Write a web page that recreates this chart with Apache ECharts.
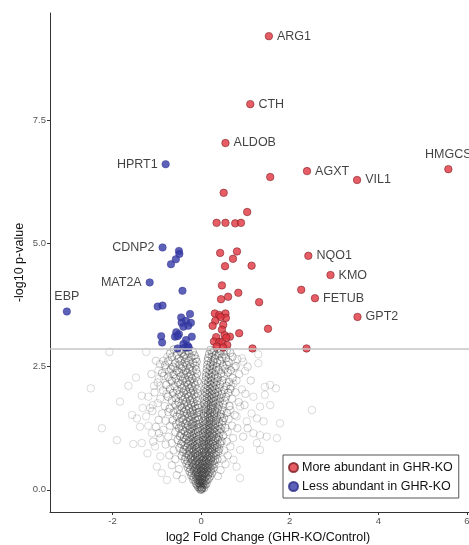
<!DOCTYPE html>
<html>
<head>
<meta charset="utf-8">
<script src="https://cdn.jsdelivr.net/npm/echarts@6/dist/echarts.min.js"></script>
<style>
html,body{margin:0;padding:0;background:#fff;}
#chart{width:469px;height:545px;}
</style>
</head>
<body>
<div id="chart"></div>
<script>
// ---------- data ----------
const xTicks = [-2, 0, 2, 4, 6];
const yTicks = [0, 2.5, 5, 7.5];
const threshold = 2.86;
const seriesNames = ['More abundant in GHR-KO', 'Less abundant in GHR-KO'];

const upLabelNames = ['ARG1','CTH','ALDOB','AGXT','VIL1','HMGCS','NQO1','KMO','FETUB','GPT2'];
const upLabelPoints = [[1.53,9.21],[1.11,7.83],[0.55,7.04],[2.39,6.47],[3.52,6.29],[5.58,6.51],[2.42,4.75],[2.92,4.36],[2.57,3.89],[3.53,3.51]];
const upOtherPoints = [
 [1.56,6.35],[0.51,6.03],[1.04,5.64],[0.35,5.42],[0.55,5.42],[0.77,5.41],[0.90,5.42],
 [0.43,4.81],[0.81,4.84],[0.72,4.69],[0.54,4.54],[1.14,4.55],
 [0.47,4.15],[2.26,4.06],[0.84,4.00],[0.61,3.92],[0.45,3.87],[1.31,3.81],
 [0.31,3.58],[0.41,3.55],[0.55,3.58],[0.56,3.49],[0.44,3.51],
 [0.32,3.43],[0.50,3.35],[0.26,3.33],[1.51,3.27],[0.86,3.18],
 [0.47,3.25],[0.53,3.14],[0.65,3.11],[0.34,3.10],[0.29,3.01],[0.41,3.00],[0.48,3.00],[0.59,2.94],
 [0.35,2.91],[0.50,2.89],[0.57,3.09],[1.16,2.87],[2.38,2.87]
];
const downLabelNames = ['HPRT1','CDNP2','MAT2A','EBP'];
const downLabelPoints = [[-0.80,6.61],[-0.87,4.92],[-1.16,4.21],[-3.03,3.62]];
const downOtherPoints = [
 [-0.50,4.85],[-0.49,4.79],[-0.57,4.68],[-0.68,4.58],[-0.42,4.04],
 [-0.98,3.72],[-0.87,3.74],
 [-0.45,3.50],[-0.25,3.57],[-0.34,3.43],[-0.44,3.39],[-0.23,3.39],[-0.29,3.33],[-0.40,3.31],
 [-0.90,3.12],[-0.88,2.99],[-0.56,3.20],[-0.50,3.16],[-0.59,3.11],[-0.53,3.12],[-0.21,3.11],
 [-0.34,3.04],[-0.40,2.96],[-0.30,2.92],[-0.36,2.89],[-0.53,2.87],[-0.28,2.89]
];
const nsSparsePoints = [
 [-2.07,2.80],[-1.24,2.80],[-0.76,2.70],[-0.96,2.43],[-0.79,2.45],[-0.59,2.47],[-1.47,2.28],[-1.64,2.11],
 [-2.49,2.06],[-0.95,2.26],[-1.06,2.11],[-0.70,2.23],[-0.92,2.11],[-1.34,1.91],[-1.19,1.89],[-1.83,1.79],
 [-1.09,1.72],[-0.98,1.76],[-1.32,1.66],[-1.15,1.66],[-1.45,1.45],[-1.56,1.52],[-1.24,1.49],[-2.24,1.25],
 [-1.38,1.28],[-1.19,1.30],[-1.11,1.15],[-1.53,0.93],[-1.34,0.95],[-1.90,1.01],[-1.21,0.74],[-1.04,0.88],
 [-0.92,0.68],[-1.00,0.47],[-0.89,0.34],[-0.77,0.20],
 [0.39,2.74],[0.92,2.67],[0.95,2.60],[1.29,2.75],[0.99,2.41],[1.29,2.57],[0.73,2.16],[0.92,2.04],
 [1.18,1.89],[1.44,2.09],[1.56,2.13],[1.69,2.06],[1.44,1.93],[1.56,1.72],[1.33,1.69],[1.14,1.55],
 [0.88,1.69],[0.80,1.49],[1.03,1.39],[1.26,1.45],[1.41,1.39],[1.78,1.35],[1.18,1.15],[1.33,1.11],
 [1.48,1.08],[1.71,1.05],[1.33,0.81],[1.26,0.95],[0.88,0.81],[0.73,0.61],[0.80,0.47],[0.88,0.24],
 [2.50,1.62]
];
const nsMidPoints = [
 [-0.85,2.62],[-0.93,2.55],[-0.72,2.40],[-0.84,2.31],[-0.98,2.18],[-0.86,2.02],[-0.78,1.95],[-0.92,1.85],
 [-0.82,1.70],[-0.74,1.58],[-0.88,1.55],[-0.96,1.42],[-0.80,1.40],[-0.70,1.30],[-0.85,1.22],[-0.74,1.08],
 [-0.92,1.05],[-0.66,0.95],[-0.80,0.92],[-0.62,0.80],[-0.72,0.70],[-0.58,0.62],[-0.66,0.50],[-0.50,0.42],
 [-0.55,0.30],[-0.42,0.22],[-1.02,2.62],[-1.12,2.35],[-1.05,1.98],[-1.10,1.60],[-1.02,1.28],[-0.95,1.15],[-1.08,0.98],
 [0.82,2.65],[0.75,2.48],[0.86,2.35],[0.80,2.22],[0.68,2.10],[0.78,1.98],[0.70,1.85],[0.85,1.78],
 [0.66,1.62],[0.76,1.52],[0.62,1.44],[0.70,1.30],[0.82,1.25],[0.60,1.18],[0.72,1.05],[0.58,0.98],
 [0.66,0.88],[0.52,0.80],[0.60,0.70],[0.48,0.62],[0.55,0.52],[0.44,0.40],[0.38,0.28],
 [1.05,2.50],[1.12,2.22],[1.00,1.95],[0.98,1.72],[1.05,1.25],[0.95,1.08]
];
const nsCorePoints = [
 [-0.62,2.85],[-0.48,2.82],[-0.41,2.86],[-0.30,2.83],[-0.19,2.81],[0.21,2.84],[0.29,2.82],[0.37,2.86],[0.44,2.81],[0.58,2.83],
 [-0.70,2.77],[-0.55,2.74],[-0.44,2.78],[-0.36,2.75],[-0.27,2.77],[-0.15,2.73],[0.18,2.76],[0.25,2.78],[0.33,2.74],[0.41,2.77],[0.52,2.75],[0.66,2.78],
 [-0.66,2.69],[-0.51,2.66],[-0.39,2.70],[-0.33,2.67],[-0.22,2.69],[-0.12,2.66],[0.16,2.68],[0.24,2.70],[0.31,2.66],[0.47,2.69],[0.56,2.67],[0.71,2.70],
 [-0.74,2.61],[-0.58,2.58],[-0.46,2.62],[-0.37,2.59],[-0.28,2.61],[-0.18,2.58],[-0.10,2.60],[0.15,2.62],[0.22,2.59],[0.28,2.61],[0.36,2.58],[0.43,2.62],[0.62,2.60],
 [-0.81,2.53],[-0.63,2.50],[-0.49,2.54],[-0.41,2.51],[-0.32,2.53],[-0.24,2.50],[-0.13,2.52],[0.14,2.54],[0.20,2.51],[0.27,2.53],[0.35,2.50],[0.49,2.52],[0.58,2.54],[0.78,2.51],
 [-0.68,2.45],[-0.55,2.42],[-0.44,2.46],[-0.35,2.43],[-0.26,2.45],[-0.19,2.42],[-0.11,2.44],[0.13,2.46],[0.19,2.43],[0.26,2.45],[0.33,2.42],[0.40,2.44],[0.54,2.46],[0.67,2.43],
 [-0.88,2.37],[-0.62,2.34],[-0.50,2.38],[-0.40,2.35],[-0.31,2.37],[-0.23,2.34],[-0.09,2.36],[0.12,2.38],[0.18,2.35],[0.24,2.37],[0.31,2.34],[0.45,2.36],[0.60,2.38],
 [-0.74,2.29],[-0.57,2.26],[-0.46,2.30],[-0.36,2.27],[-0.28,2.29],[-0.20,2.26],[-0.12,2.28],[0.11,2.30],[0.17,2.27],[0.23,2.29],[0.30,2.26],[0.38,2.28],[0.51,2.30],[0.71,2.27],
 [-0.66,2.21],[-0.52,2.18],[-0.42,2.22],[-0.33,2.19],[-0.25,2.21],[-0.16,2.18],[-0.08,2.20],[0.10,2.22],[0.16,2.19],[0.22,2.21],[0.29,2.18],[0.36,2.20],[0.48,2.22],[0.63,2.19],
 [-0.79,2.13],[-0.60,2.10],[-0.47,2.14],[-0.38,2.11],[-0.29,2.13],[-0.21,2.10],[-0.13,2.12],[0.10,2.14],[0.15,2.11],[0.21,2.13],[0.27,2.10],[0.34,2.12],[0.43,2.14],[0.57,2.11],
 [-0.70,2.05],[-0.54,2.02],[-0.43,2.06],[-0.34,2.03],[-0.26,2.05],[-0.18,2.02],[-0.09,2.04],[0.09,2.06],[0.14,2.03],[0.20,2.05],[0.26,2.02],[0.32,2.04],[0.40,2.06],[0.52,2.03],[0.66,2.05],
 [-0.63,1.97],[-0.50,1.94],[-0.40,1.98],[-0.31,1.95],[-0.23,1.97],[-0.15,1.94],[-0.08,1.96],[0.09,1.98],[0.13,1.95],[0.19,1.97],[0.25,1.94],[0.31,1.96],[0.38,1.98],[0.47,1.95],[0.61,1.97],
 [-0.75,1.89],[-0.57,1.86],[-0.45,1.90],[-0.36,1.87],[-0.28,1.89],[-0.20,1.86],[-0.11,1.88],[0.08,1.90],[0.13,1.87],[0.18,1.89],[0.24,1.86],[0.29,1.88],[0.36,1.90],[0.44,1.87],[0.56,1.89],
 [-0.66,1.81],[-0.51,1.78],[-0.41,1.82],[-0.33,1.79],[-0.25,1.81],[-0.17,1.78],[-0.09,1.80],[0.08,1.82],[0.12,1.79],[0.17,1.81],[0.23,1.78],[0.28,1.80],[0.34,1.82],[0.42,1.79],[0.53,1.81],
 [-0.58,1.73],[-0.47,1.70],[-0.38,1.74],[-0.30,1.71],[-0.22,1.73],[-0.14,1.70],[-0.07,1.72],[0.07,1.74],[0.12,1.71],[0.16,1.73],[0.22,1.70],[0.27,1.72],[0.33,1.74],[0.40,1.71],[0.50,1.73],[0.64,1.70],
 [-0.71,1.65],[-0.53,1.62],[-0.43,1.66],[-0.34,1.63],[-0.27,1.65],[-0.19,1.62],[-0.12,1.64],[-0.06,1.66],[0.07,1.63],[0.11,1.65],[0.16,1.62],[0.21,1.64],[0.26,1.66],[0.31,1.63],[0.38,1.65],[0.47,1.62],
 [-0.62,1.57],[-0.48,1.54],[-0.39,1.58],[-0.31,1.55],[-0.24,1.57],[-0.17,1.54],[-0.10,1.56],[-0.05,1.58],[0.06,1.55],[0.11,1.57],[0.15,1.54],[0.20,1.56],[0.25,1.58],[0.30,1.55],[0.36,1.57],[0.45,1.54],[0.58,1.56],
 [-0.55,1.49],[-0.44,1.46],[-0.36,1.50],[-0.28,1.47],[-0.21,1.49],[-0.14,1.46],[-0.08,1.48],[0.06,1.50],[0.10,1.47],[0.15,1.49],[0.19,1.46],[0.24,1.48],[0.29,1.50],[0.35,1.47],[0.43,1.49],[0.52,1.46],
 [-0.64,1.41],[-0.49,1.38],[-0.40,1.42],[-0.32,1.39],[-0.25,1.41],[-0.18,1.38],[-0.12,1.40],[-0.06,1.42],[0.05,1.39],[0.10,1.41],[0.14,1.38],[0.19,1.40],[0.23,1.42],[0.28,1.39],[0.33,1.41],[0.41,1.38],[0.49,1.40],
 [-0.56,1.33],[-0.45,1.30],[-0.36,1.34],[-0.29,1.31],[-0.22,1.33],[-0.16,1.30],[-0.10,1.32],[-0.05,1.34],[0.05,1.31],[0.09,1.33],[0.13,1.30],[0.18,1.32],[0.22,1.34],[0.27,1.31],[0.32,1.33],[0.39,1.30],[0.47,1.32],
 [-0.50,1.25],[-0.41,1.22],[-0.33,1.26],[-0.26,1.23],[-0.20,1.25],[-0.14,1.22],[-0.08,1.24],[-0.04,1.26],[0.05,1.23],[0.09,1.25],[0.13,1.22],[0.17,1.24],[0.21,1.26],[0.26,1.23],[0.31,1.25],[0.37,1.22],[0.44,1.24],[0.55,1.26],
 [-0.58,1.17],[-0.45,1.14],[-0.37,1.18],[-0.30,1.15],[-0.23,1.17],[-0.17,1.14],[-0.12,1.16],[-0.07,1.18],[0.04,1.15],[0.08,1.17],[0.12,1.14],[0.16,1.16],[0.20,1.18],[0.25,1.15],[0.30,1.17],[0.35,1.14],[0.42,1.16],
 [-0.48,1.09],[-0.39,1.06],[-0.32,1.10],[-0.26,1.07],[-0.20,1.09],[-0.15,1.06],[-0.10,1.08],[-0.05,1.10],[0.04,1.07],[0.08,1.09],[0.11,1.06],[0.15,1.08],[0.19,1.10],[0.24,1.07],[0.28,1.09],[0.34,1.06],[0.40,1.08],[0.50,1.10],
 [-0.53,1.01],[-0.42,0.98],[-0.34,1.02],[-0.28,0.99],[-0.22,1.01],[-0.17,0.98],[-0.12,1.00],[-0.08,1.02],[-0.04,0.99],[0.04,1.01],[0.07,0.98],[0.11,1.00],[0.14,1.02],[0.18,0.99],[0.22,1.01],[0.27,0.98],[0.32,1.00],[0.38,1.02],[0.46,0.99],
 [-0.45,0.93],[-0.37,0.90],[-0.30,0.94],[-0.24,0.91],[-0.19,0.93],[-0.14,0.90],[-0.10,0.92],[-0.06,0.94],[0.03,0.91],[0.07,0.93],[0.10,0.90],[0.14,0.92],[0.17,0.94],[0.21,0.91],[0.26,0.93],[0.31,0.90],[0.37,0.92],[0.43,0.94],
 [-0.49,0.85],[-0.39,0.82],[-0.32,0.86],[-0.26,0.83],[-0.21,0.85],[-0.16,0.82],[-0.12,0.84],[-0.08,0.86],[-0.04,0.83],[0.03,0.85],[0.06,0.82],[0.10,0.84],[0.13,0.86],[0.17,0.83],[0.21,0.85],[0.25,0.82],[0.30,0.84],[0.35,0.86],[0.41,0.83],
 [-0.41,0.77],[-0.33,0.74],[-0.27,0.78],[-0.22,0.75],[-0.17,0.77],[-0.13,0.74],[-0.09,0.76],[-0.05,0.78],[0.02,0.75],[0.06,0.77],[0.09,0.74],[0.12,0.76],[0.16,0.78],[0.20,0.75],[0.24,0.77],[0.29,0.74],[0.34,0.76],[0.39,0.78],
 [-0.44,0.69],[-0.35,0.66],[-0.28,0.70],[-0.23,0.67],[-0.18,0.69],[-0.14,0.66],[-0.10,0.68],[-0.07,0.70],[-0.03,0.67],[0.02,0.69],[0.05,0.66],[0.09,0.68],[0.12,0.70],[0.15,0.67],[0.19,0.69],[0.23,0.66],[0.28,0.68],[0.33,0.70],
 [-0.37,0.61],[-0.30,0.58],[-0.24,0.62],[-0.19,0.59],[-0.15,0.61],[-0.11,0.58],[-0.08,0.60],[-0.04,0.62],[0.02,0.59],[0.05,0.61],[0.08,0.58],[0.11,0.60],[0.14,0.62],[0.18,0.59],[0.22,0.61],[0.27,0.58],[0.31,0.60],[0.37,0.62],
 [-0.33,0.53],[-0.27,0.50],[-0.21,0.54],[-0.17,0.51],[-0.13,0.53],[-0.10,0.50],[-0.06,0.52],[-0.03,0.54],[0.01,0.51],[0.04,0.53],[0.07,0.50],[0.10,0.52],[0.13,0.54],[0.17,0.51],[0.21,0.53],[0.25,0.50],[0.30,0.52],
 [-0.30,0.45],[-0.24,0.42],[-0.19,0.46],[-0.15,0.43],[-0.11,0.45],[-0.08,0.42],[-0.05,0.44],[-0.02,0.46],[0.01,0.43],[0.04,0.45],[0.06,0.42],[0.09,0.44],[0.12,0.46],[0.15,0.43],[0.19,0.45],[0.23,0.42],[0.28,0.44],
 [-0.26,0.37],[-0.21,0.34],[-0.16,0.38],[-0.12,0.35],[-0.09,0.37],[-0.06,0.34],[-0.03,0.36],[0.00,0.38],[0.03,0.35],[0.05,0.37],[0.08,0.34],[0.11,0.36],[0.14,0.38],[0.17,0.35],[0.21,0.37],[0.25,0.34],
 [-0.22,0.29],[-0.17,0.26],[-0.13,0.30],[-0.10,0.27],[-0.07,0.29],[-0.04,0.26],[-0.02,0.28],[0.01,0.30],[0.03,0.27],[0.06,0.29],[0.09,0.26],[0.12,0.28],[0.16,0.30],[0.20,0.27],
 [-0.18,0.21],[-0.13,0.18],[-0.10,0.22],[-0.07,0.19],[-0.05,0.21],[-0.02,0.18],[0.00,0.20],[0.02,0.22],[0.04,0.19],[0.07,0.21],[0.10,0.18],[0.14,0.20],[0.17,0.22],
 [-0.12,0.13],[-0.09,0.10],[-0.06,0.14],[-0.04,0.11],[-0.02,0.13],[0.00,0.10],[0.02,0.14],[0.04,0.11],[0.06,0.13],[0.09,0.10],[0.12,0.12],
 [-0.07,0.06],[-0.04,0.04],[-0.02,0.07],[0.00,0.05],[0.02,0.03],[0.04,0.06],[0.07,0.04],
 [-0.02,0.01],[0.00,0.00],[0.02,0.02]
];

// ---------- styling (not data) ----------
const labelPlacement = {
  ARG1:'right', CTH:'right', ALDOB:'right', AGXT:'right', VIL1:'right', HMGCS:'top',
  NQO1:'right', KMO:'right', FETUB:'right', GPT2:'right',
  HPRT1:'left', CDNP2:'left', MAT2A:'left', EBP:'top'
};
const FONT = "'Liberation Sans', Arial, Helvetica, sans-serif";
const RED = '#E0353E', BLUE = '#3439A6';

function labelled(names, pts) {
  return names.map((n, i) => ({
    name: n, value: pts[i],
    label: { show: true, formatter: n, position: labelPlacement[n], distance: 4,
      color: '#111', fontSize: 12.5, fontFamily: FONT }
  }));
}
function greySeries(pts, alpha) {
  return {
    type: 'scatter', symbol: 'circle', symbolSize: 7.5, silent: true,
    itemStyle: { color: 'rgba(0,0,0,0)', borderColor: 'rgba(50,50,50,' + alpha + ')', borderWidth: 0.9 },
    data: pts
  };
}

const nsSparse = greySeries(nsSparsePoints, 0.25);
nsSparse.markLine = {
  silent: true, symbol: ['none', 'none'], label: { show: false },
  lineStyle: { color: '#c4c4c4', width: 1.6, type: 'solid' },
  data: [{ yAxis: threshold }]
};

const chart = echarts.init(document.getElementById('chart'), null, { renderer: 'canvas' });
chart.setOption({
  animation: false,
  backgroundColor: '#ffffff',
  textStyle: { fontFamily: FONT },
  grid: { left: 50, top: 13, width: 436, height: 499, containLabel: false, outerBoundsMode: 'none' },
  xAxis: {
    type: 'value', min: -3.41, max: 6.43,
    name: 'log2 Fold Change (GHR-KO/Control)', nameLocation: 'middle', nameGap: 19,
    nameTextStyle: { color: '#111', fontSize: 12.5, fontFamily: FONT },
    axisLine: { show: true, onZero: false, lineStyle: { color: '#333', width: 1 } },
    axisTick: { show: true, length: 3, lineStyle: { color: '#333' }, customValues: xTicks },
    axisLabel: { color: '#555', fontSize: 9.5, margin: 4, customValues: xTicks,
      formatter: v => String(v) },
    splitLine: { show: false }
  },
  yAxis: {
    type: 'value', min: -0.45, max: 9.68,
    name: '-log10 p-value', nameLocation: 'middle', nameGap: 24, nameRotate: 90,
    nameMoveOverlap: false,
    nameTextStyle: { color: '#111', fontSize: 12.5, fontFamily: FONT },
    axisLine: { show: true, onZero: false, lineStyle: { color: '#333', width: 1 } },
    axisTick: { show: true, length: 3, lineStyle: { color: '#333' }, customValues: yTicks },
    axisLabel: { color: '#555', fontSize: 9.5, margin: 4, customValues: yTicks,
      formatter: v => Number(v).toFixed(1) },
    splitLine: { show: false }
  },
  legend: {
    data: seriesNames.map(n => ({ name: n, icon: 'circle' })),
    orient: 'vertical', left: 283, top: 455,
    padding: [6, 6, 5, 5], itemGap: 6, itemWidth: 9, itemHeight: 9,
    borderColor: '#555', borderWidth: 1, backgroundColor: '#fff',
    textStyle: { color: '#111', fontSize: 12.5, fontFamily: FONT, padding: [0, 0, 0, -1] },
    selectedMode: false
  },
  series: [
    nsSparse,
    greySeries(nsMidPoints, 0.32),
    greySeries(nsCorePoints, 0.5),
    {
      name: seriesNames[0], type: 'scatter', symbol: 'circle', symbolSize: 7.5,
      itemStyle: { color: RED, borderColor: '#7a1c22', borderWidth: 0.7 },
      data: upOtherPoints.concat(labelled(upLabelNames, upLabelPoints))
    },
    {
      name: seriesNames[1], type: 'scatter', symbol: 'circle', symbolSize: 7.5,
      itemStyle: { color: BLUE, borderColor: '#2a2e8a', borderWidth: 0.5 },
      data: downOtherPoints.concat(labelled(downLabelNames, downLabelPoints))
    }
  ]
});
</script>
</body>
</html>
